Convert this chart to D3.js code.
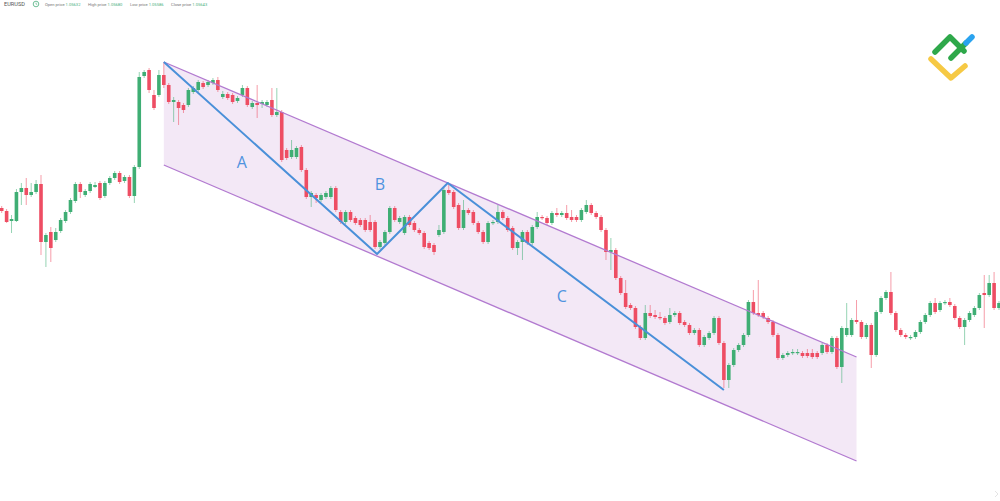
<!DOCTYPE html>
<html><head><meta charset="utf-8">
<script src="https://cdn.jsdelivr.net/npm/d3@7"></script>
<style>html,body{margin:0;padding:0;background:#fff;overflow:hidden}svg{display:block}</style>
</head><body>
<script>
// ---- Data (EURUSD candles) ----
const opens=[1.0792,1.0789,1.0779,1.0779,1.0808,1.0812,1.0805,1.0808,1.0816,1.0758,
1.0768,1.0760,1.0769,1.0779,1.0788,1.0799,1.0816,1.0805,1.0809,1.0813,
1.0817,1.0804,1.0817,1.0822,1.0827,1.0819,1.0823,1.0804,1.0833,1.0924,
1.0930,1.0905,1.0905,1.0925,1.0915,1.0898,1.0898,1.0895,1.0895,1.0908,
1.0910,1.0917,1.0915,1.0917,1.0920,1.0903,1.0906,1.0905,1.0899,1.0905,
1.0912,1.0893,1.0897,1.0896,1.0895,1.0900,1.0885,1.0888,1.0850,1.0843,
1.0843,1.0853,1.0830,1.0803,1.0805,1.0800,1.0803,1.0803,1.0812,1.0788,
1.0778,1.0788,1.0782,1.0780,1.0780,1.0778,1.0778,1.0753,1.0757,1.0768,
1.0792,1.0778,1.0767,1.0783,1.0777,1.0770,1.0767,1.0757,1.0755,1.0765,
1.0768,1.0810,1.0808,1.0795,1.0772,1.0790,1.0788,1.0777,1.0768,1.0758,
1.0777,1.0778,1.0788,1.0782,1.0772,1.0752,1.0758,1.0768,1.0757,1.0773,
1.0783,1.0782,1.0777,1.0787,1.0785,1.0787,1.0783,1.0783,1.0780,1.0788,
1.0795,1.0787,1.0783,1.0770,1.0748,1.0750,1.0722,1.0707,1.0695,1.0692,
1.0673,1.0662,1.0687,1.0685,1.0683,1.0682,1.0678,1.0685,1.0687,1.0678,
1.0675,1.0667,1.0670,1.0655,1.0662,1.0667,1.0682,1.0657,1.0620,1.0635,
1.0650,1.0655,1.0665,1.0698,1.0687,1.0687,1.0682,1.0678,1.0665,1.0642,
1.0645,1.0647,1.0647,1.0647,1.0647,1.0647,1.0647,1.0647,1.0655,1.0648,
1.0662,1.0633,1.0665,1.0665,1.0680,1.0678,1.0663,1.0675,1.0645,1.0688,
1.0702,1.0708,1.0687,1.0670,1.0665,1.0662,1.0663,1.0668,1.0678,1.0685,
1.0697,1.0690,1.0697,1.0698,1.0694,1.0682,1.0673,1.0680,1.0685,1.0692,
1.0707,1.0705,1.0717,1.0692];
const highs=[1.0794,1.0791,1.0785,1.0811,1.0817,1.0822,1.0817,1.0820,1.0825,1.0767,
1.0773,1.0772,1.0782,1.0790,1.0802,1.0818,1.0818,1.0811,1.0818,1.0818,
1.0819,1.0819,1.0824,1.0829,1.0829,1.0825,1.0825,1.0835,1.0928,1.0930,
1.0932,1.0910,1.0930,1.0938,1.0917,1.0903,1.0900,1.0897,1.0912,1.0914,
1.0920,1.0919,1.0920,1.0922,1.0923,1.0909,1.0908,1.0907,1.0904,1.0915,
1.0914,1.0899,1.0915,1.0900,1.0900,1.0912,1.0912,1.0890,1.0852,1.0860,
1.0854,1.0855,1.0832,1.0809,1.0807,1.0807,1.0809,1.0814,1.0814,1.0790,
1.0790,1.0790,1.0784,1.0782,1.0782,1.0785,1.0780,1.0760,1.0770,1.0794,
1.0794,1.0784,1.0785,1.0785,1.0779,1.0772,1.0769,1.0759,1.0757,1.0775,
1.0812,1.0816,1.0810,1.0797,1.0800,1.0792,1.0790,1.0779,1.0770,1.0779,
1.0780,1.0795,1.0790,1.0784,1.0774,1.0760,1.0770,1.0770,1.0775,1.0788,
1.0785,1.0784,1.0789,1.0792,1.0789,1.0795,1.0790,1.0785,1.0792,1.0800,
1.0797,1.0789,1.0785,1.0772,1.0762,1.0752,1.0724,1.0720,1.0697,1.0694,
1.0675,1.0695,1.0695,1.0690,1.0688,1.0684,1.0692,1.0689,1.0689,1.0680,
1.0677,1.0672,1.0672,1.0665,1.0669,1.0684,1.0684,1.0659,1.0637,1.0652,
1.0657,1.0667,1.0700,1.0710,1.0720,1.0689,1.0684,1.0680,1.0667,1.0647,
1.0649,1.0651,1.0651,1.0649,1.0651,1.0651,1.0649,1.0657,1.0657,1.0664,
1.0664,1.0674,1.0697,1.0682,1.0700,1.0680,1.0677,1.0677,1.0690,1.0704,
1.0710,1.0728,1.0689,1.0672,1.0667,1.0665,1.0670,1.0680,1.0687,1.0699,
1.0702,1.0699,1.0700,1.0702,1.0696,1.0684,1.0682,1.0689,1.0694,1.0707,
1.0725,1.0725,1.0728,1.0699];
const lows=[1.0787,1.0777,1.0767,1.0778,1.0795,1.0795,1.0803,1.0806,1.0745,1.0733,
1.0738,1.0758,1.0767,1.0777,1.0786,1.0797,1.0802,1.0803,1.0807,1.0812,
1.0800,1.0802,1.0815,1.0820,1.0816,1.0817,1.0802,1.0797,1.0831,1.0922,
1.0907,1.0890,1.0903,1.0912,1.0896,1.0878,1.0875,1.0887,1.0893,1.0906,
1.0908,1.0911,1.0913,1.0915,1.0908,1.0901,1.0900,1.0896,1.0897,1.0903,
1.0893,1.0891,1.0882,1.0892,1.0893,1.0883,1.0883,1.0838,1.0840,1.0841,
1.0841,1.0828,1.0801,1.0793,1.0797,1.0798,1.0801,1.0801,1.0788,1.0776,
1.0776,1.0778,1.0775,1.0773,1.0768,1.0768,1.0751,1.0751,1.0755,1.0766,
1.0778,1.0776,1.0765,1.0773,1.0768,1.0765,1.0751,1.0750,1.0745,1.0763,
1.0766,1.0805,1.0791,1.0770,1.0770,1.0785,1.0775,1.0766,1.0756,1.0756,
1.0775,1.0776,1.0780,1.0768,1.0750,1.0745,1.0740,1.0755,1.0755,1.0771,
1.0780,1.0775,1.0775,1.0783,1.0783,1.0780,1.0778,1.0778,1.0778,1.0786,
1.0785,1.0781,1.0768,1.0740,1.0730,1.0720,1.0705,1.0691,1.0690,1.0671,
1.0660,1.0660,1.0682,1.0681,1.0680,1.0675,1.0676,1.0683,1.0675,1.0673,
1.0665,1.0665,1.0653,1.0653,1.0660,1.0665,1.0655,1.0612,1.0612,1.0633,
1.0648,1.0653,1.0663,1.0685,1.0683,1.0681,1.0676,1.0663,1.0640,1.0640,
1.0643,1.0645,1.0645,1.0642,1.0642,1.0641,1.0641,1.0645,1.0646,1.0646,
1.0631,1.0617,1.0663,1.0663,1.0676,1.0661,1.0661,1.0632,1.0643,1.0686,
1.0700,1.0685,1.0668,1.0663,1.0661,1.0660,1.0661,1.0666,1.0676,1.0683,
1.0686,1.0688,1.0695,1.0693,1.0680,1.0671,1.0655,1.0678,1.0683,1.0690,
1.0672,1.0703,1.0690,1.0690];
const closes=[1.0789,1.0778,1.0781,1.0808,1.0812,1.0805,1.0808,1.0816,1.0758,1.0765,
1.0752,1.0768,1.0780,1.0788,1.0800,1.0816,1.0808,1.0809,1.0816,1.0815,
1.0802,1.0817,1.0822,1.0827,1.0818,1.0823,1.0804,1.0833,1.0923,1.0928,
1.0910,1.0892,1.0925,1.0915,1.0898,1.0900,1.0892,1.0890,1.0910,1.0912,
1.0918,1.0913,1.0918,1.0920,1.0910,1.0906,1.0902,1.0898,1.0902,1.0912,
1.0895,1.0897,1.0895,1.0898,1.0898,1.0885,1.0888,1.0840,1.0842,1.0850,
1.0852,1.0830,1.0803,1.0807,1.0802,1.0805,1.0807,1.0812,1.0790,1.0778,
1.0788,1.0780,1.0777,1.0775,1.0770,1.0770,1.0753,1.0758,1.0768,1.0792,
1.0780,1.0782,1.0783,1.0775,1.0770,1.0767,1.0753,1.0752,1.0748,1.0770,
1.0810,1.0807,1.0793,1.0772,1.0790,1.0787,1.0777,1.0768,1.0758,1.0777,
1.0778,1.0788,1.0782,1.0770,1.0752,1.0758,1.0768,1.0757,1.0773,1.0783,
1.0782,1.0777,1.0787,1.0785,1.0787,1.0782,1.0780,1.0780,1.0790,1.0795,
1.0787,1.0783,1.0770,1.0748,1.0750,1.0722,1.0707,1.0693,1.0692,1.0673,
1.0662,1.0687,1.0684,1.0683,1.0682,1.0677,1.0685,1.0687,1.0677,1.0675,
1.0667,1.0670,1.0655,1.0663,1.0667,1.0682,1.0657,1.0620,1.0635,1.0650,
1.0655,1.0665,1.0698,1.0687,1.0685,1.0683,1.0678,1.0665,1.0642,1.0645,
1.0647,1.0648,1.0648,1.0644,1.0644,1.0643,1.0643,1.0655,1.0648,1.0662,
1.0633,1.0672,1.0672,1.0680,1.0678,1.0663,1.0675,1.0645,1.0688,1.0702,
1.0708,1.0687,1.0670,1.0665,1.0663,1.0663,1.0668,1.0678,1.0685,1.0697,
1.0688,1.0697,1.0698,1.0695,1.0682,1.0673,1.0680,1.0687,1.0692,1.0705,
1.0705,1.0717,1.0692,1.0697];

// Channel (start/end candle index, upper and lower prices)
const channelIdx=[33,174];
const channelUpper=[1.0938,1.0643];
const channelLower=[1.0835,1.0539];
// ABC zigzag waypoints
const waveIdx=[33,76.4,90.8,147];
const wavePrice=[1.0938,1.0746,1.0817,1.0610];
const waveLabels=["A","B","C"];
const waveLabelIdx=[48.9,77,114];
const waveLabelPrice=[1.0838,1.0816,1.0704];
// Header
const symbol="EURUSD";
const headerNames=["Open price","High price","Low price","Close price"];
const headerValues=["1.05632","1.05680","1.05586","1.05643"];

// ---- Drawing ----
const W=1000,H=501;
const N=opens.length;
const svg=d3.select("body").append("svg").attr("width",W).attr("height",H);
const x=d3.scaleLinear().domain([0,N-1]).range([1.7,999]);
const y=d3.scaleLinear().domain([1.1,1.05]).range([0,500]);

const GREEN="#3fae74", RED="#ee4d63";

// channel fill
svg.append("path")
  .attr("d",`M${x(channelIdx[0])},${y(channelUpper[0])}L${x(channelIdx[1])},${y(channelUpper[1])}L${x(channelIdx[1])},${y(channelLower[1])}L${x(channelIdx[0])},${y(channelLower[0])}Z`)
  .attr("fill","#f3e8f6");

const candles=d3.range(N).map(i=>({i,o:opens[i],h:highs[i],l:lows[i],c:closes[i]}));
const g=svg.append("g");
g.selectAll("line.w").data(candles).join("line")
  .attr("x1",d=>x(d.i)).attr("x2",d=>x(d.i))
  .attr("y1",d=>y(d.h)).attr("y2",d=>y(d.l))
  .attr("stroke",d=>d.c>=d.o?GREEN:RED).attr("stroke-opacity",0.55).attr("stroke-width",1);
const bw=3.6;
g.selectAll("rect.b").data(candles).join("rect")
  .attr("x",d=>x(d.i)-bw/2).attr("width",bw)
  .attr("y",d=>y(Math.max(d.o,d.c)))
  .attr("height",d=>Math.max(1.2,Math.abs(y(d.o)-y(d.c))))
  .attr("fill",d=>d.c>=d.o?GREEN:RED);

// channel lines
const line=d3.line().x(d=>x(d[0])).y(d=>y(d[1]));
svg.append("path").attr("d",line(channelIdx.map((v,k)=>[v,channelUpper[k]])))
  .attr("fill","none").attr("stroke","#b27ad0").attr("stroke-width",1.3);
svg.append("path").attr("d",line(channelIdx.map((v,k)=>[v,channelLower[k]])))
  .attr("fill","none").attr("stroke","#b27ad0").attr("stroke-width",1.3);

// ABC zigzag
svg.append("path").attr("d",line(waveIdx.map((v,k)=>[v,wavePrice[k]])))
  .attr("fill","none").attr("stroke","#4a90d9").attr("stroke-width",2).attr("stroke-linejoin","round");
svg.selectAll("text.wl").data(waveLabels).join("text")
  .attr("x",(d,k)=>x(waveLabelIdx[k])).attr("y",(d,k)=>y(waveLabelPrice[k]))
  .attr("text-anchor","middle").attr("dominant-baseline","central")
  .attr("font-family","Open Sans, sans-serif").attr("font-size",16)
  .attr("fill","#4f93df").text(d=>d);

// header
const hdr=svg.append("g").attr("font-family","Roboto, sans-serif").attr("font-size",4.1);
hdr.append("text").attr("x",4).attr("y",6).attr("fill","#555").attr("font-size",5.6).text(symbol);
hdr.append("circle").attr("cx",36).attr("cy",4).attr("r",2.8).attr("fill","none").attr("stroke","#4caf7d").attr("stroke-width",0.8);
hdr.append("path").attr("d","M36,2.6V4.2H37.2").attr("fill","none").attr("stroke","#4caf7d").attr("stroke-width",0.6);
const hx=[45,88,130,171];
headerNames.forEach((n,k)=>{
  const t=hdr.append("text").attr("x",hx[k]).attr("y",5.6);
  t.append("tspan").attr("fill","#777").text(n+" ");
  t.append("tspan").attr("fill","#4caf7d").text(headerValues[k]);
});

// logo
const logo=svg.append("g").attr("fill","none").attr("stroke-linecap","round").attr("stroke-linejoin","round").attr("stroke-width",5.5);
logo.append("path").attr("d","M931,59L951,78L965,66").attr("stroke","#f6c944");
logo.append("path").attr("d","M935,52L950,37L964,51").attr("stroke","#2ea84a");
logo.append("path").attr("d","M951,58L966,43").attr("stroke","#2ea84a");
logo.append("path").attr("d","M966,43L972,37").attr("stroke","#2aa3ef");

// corner chevron
svg.append("path").attr("d","M995,491L998,494L995,497").attr("fill","none").attr("stroke","#ddd").attr("stroke-width",0.8);
</script>
</body></html>
